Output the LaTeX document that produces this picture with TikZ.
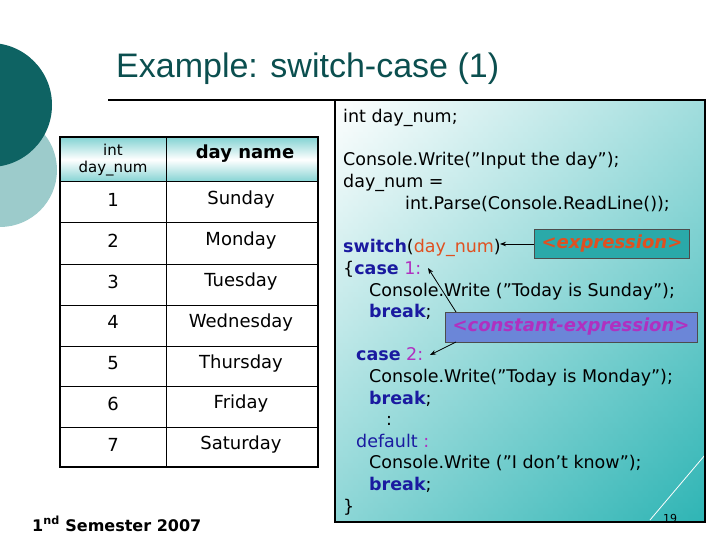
\documentclass[tikz,border=0pt]{standalone}
\usepackage{fontspec}
\setmainfont{DejaVu Sans}
\newfontfamily\titlefont{Liberation Sans}
\usetikzlibrary{arrows.meta}
\definecolor{teal1}{HTML}{0E6363}
\definecolor{teal2}{HTML}{9CCBCB}
\definecolor{boxteal}{HTML}{2FB5B5}
\definecolor{kw}{HTML}{1A1AA0}
\definecolor{var}{HTML}{E05020}
\definecolor{num}{HTML}{B030C0}
\definecolor{cbox}{HTML}{6B86D8}
\newcommand{\qq}{{\char34}}
\begin{document}
\begin{tikzpicture}[x=1pt,y=-1pt,
  code/.style={anchor=base west,inner sep=0pt,font=\fontsize{17.5}{20}\selectfont},
  cell/.style={anchor=center,font=\fontsize{18}{20}\selectfont},
  lbl/.style={draw=black!70,anchor=center,inner sep=0pt,font=\fontsize{18}{20}\selectfont\bfseries\itshape},
  arr/.style={-{Stealth[length=6pt]},thick}]
\useasboundingbox (0,0) rectangle (720,540);
\fill[white] (0,0) rectangle (720,540);
% circles
\fill[teal2] (0,170) circle (57);
\fill[teal1] (-10,105) circle (62);
% title
\node[anchor=base west,inner sep=0pt,text=teal1!80!black,font=\titlefont\fontsize{34}{38}\selectfont] (title) at (116,78) {Example: switch-case (1)};
\draw[line width=1.2pt] (108,100) -- (335,100);
% code box
\shade[left color=white,right color=boxteal] (335,100) rectangle (705,522);
\shade[top color=white,bottom color=boxteal,opacity=0.55] (335,100) rectangle (705,522);
\draw[white,thick] (650,520) -- (705,455);
\draw[line width=2pt] (335,100) rectangle (705,522);
% code
\node[code] (l1) at (343,123) {int day\_num;};
\node[code] (l2) at (343,166) {Console.Write(\qq Input the day\qq);};
\node[code] (l3) at (343,188) {day\_num =};
\node[code] (l4) at (405,210) {int.Parse(Console.ReadLine());};
\node[code] (l5) at (343,252) {\textcolor{kw}{\bfseries switch}(\textcolor{var}{day\_num})};
\node[code] (l6) at (343,274) {\{\textcolor{kw}{\bfseries case} \textcolor{num}{1:}};
\node[code] (l7) at (369,296) {Console.Write (\qq Today is Sunday\qq);};
\node[code] (l8) at (369,317) {\textcolor{kw}{\bfseries break};};
\node[code] (l9) at (356,360) {\textcolor{kw}{\bfseries case} \textcolor{num}{2:}};
\node[code] (l10) at (369,382) {Console.Write(\qq Today is Monday\qq);};
\node[code] (l11) at (369,404) {\textcolor{kw}{\bfseries break};};
\node[code] (l12) at (386,425) {:};
\node[code] (l13) at (356,447) {\textcolor{kw}{default} \textcolor{num}{:}};
\node[code] (l14) at (369,468) {Console.Write (\qq I don’t know\qq);};
\node[code] (l15) at (369,490) {\textcolor{kw}{\bfseries break};};
\node[code] (l16) at (343,512) {\}};
\node[anchor=base,inner sep=0pt,font=\fontsize{11}{12}\selectfont] (pg) at (670,522) {19};
% label boxes
\node[lbl,fill=boxteal!85!teal1,text=var,minimum width=155,minimum height=29] (expr) at (612,244) {<expression>};
\node[lbl,fill=cbox,text=num,minimum width=252,minimum height=30] (cexpr) at (571,327) {<constant-expression>};
\coordinate (t1) at (500,244);
\coordinate (t2) at (428,268);
\coordinate (t3) at (430,355);
\coordinate (s2) at (456,312);
\coordinate (s3) at (456,342);
\draw[arr] (expr.west) -- (t1);
\draw[arr] (s2) -- (t2);
\draw[arr] (s3) -- (t3);
% table
\shade[top color=boxteal!60,bottom color=boxteal!60,middle color=white] (60,137) rectangle (318,182);
\foreach \y in {182,223,264,305,346,386,427}{\draw[line width=1pt] (60,\y) -- (318,\y);}
\draw[line width=1.5pt] (60,137) rectangle (318,467);
\draw[line width=1pt] (166,137) -- (166,467);
\node[cell,align=center,font=\fontsize{15}{17}\selectfont] (h1) at (113,160) {int\\day\_num};
\node[cell,font=\fontsize{18}{20}\selectfont\bfseries] (h2) at (245,154) {day name};
\foreach \i/\d [count=\k from 0] in {1/Sunday,2/Monday,3/Tuesday,4/Wednesday,5/Thursday,6/Friday,7/Saturday}{
  \node[cell] (n\i) at (113,200+\k*40.8) {\i};
  \node[cell] (d\i) at (241,200+\k*40.8) {\d};
}
\node[anchor=base west,inner sep=0pt,font=\fontsize{16}{18}\selectfont\bfseries] (foot) at (32,531) {1\textsuperscript{nd} Semester 2007};
\end{tikzpicture}
\end{document}
